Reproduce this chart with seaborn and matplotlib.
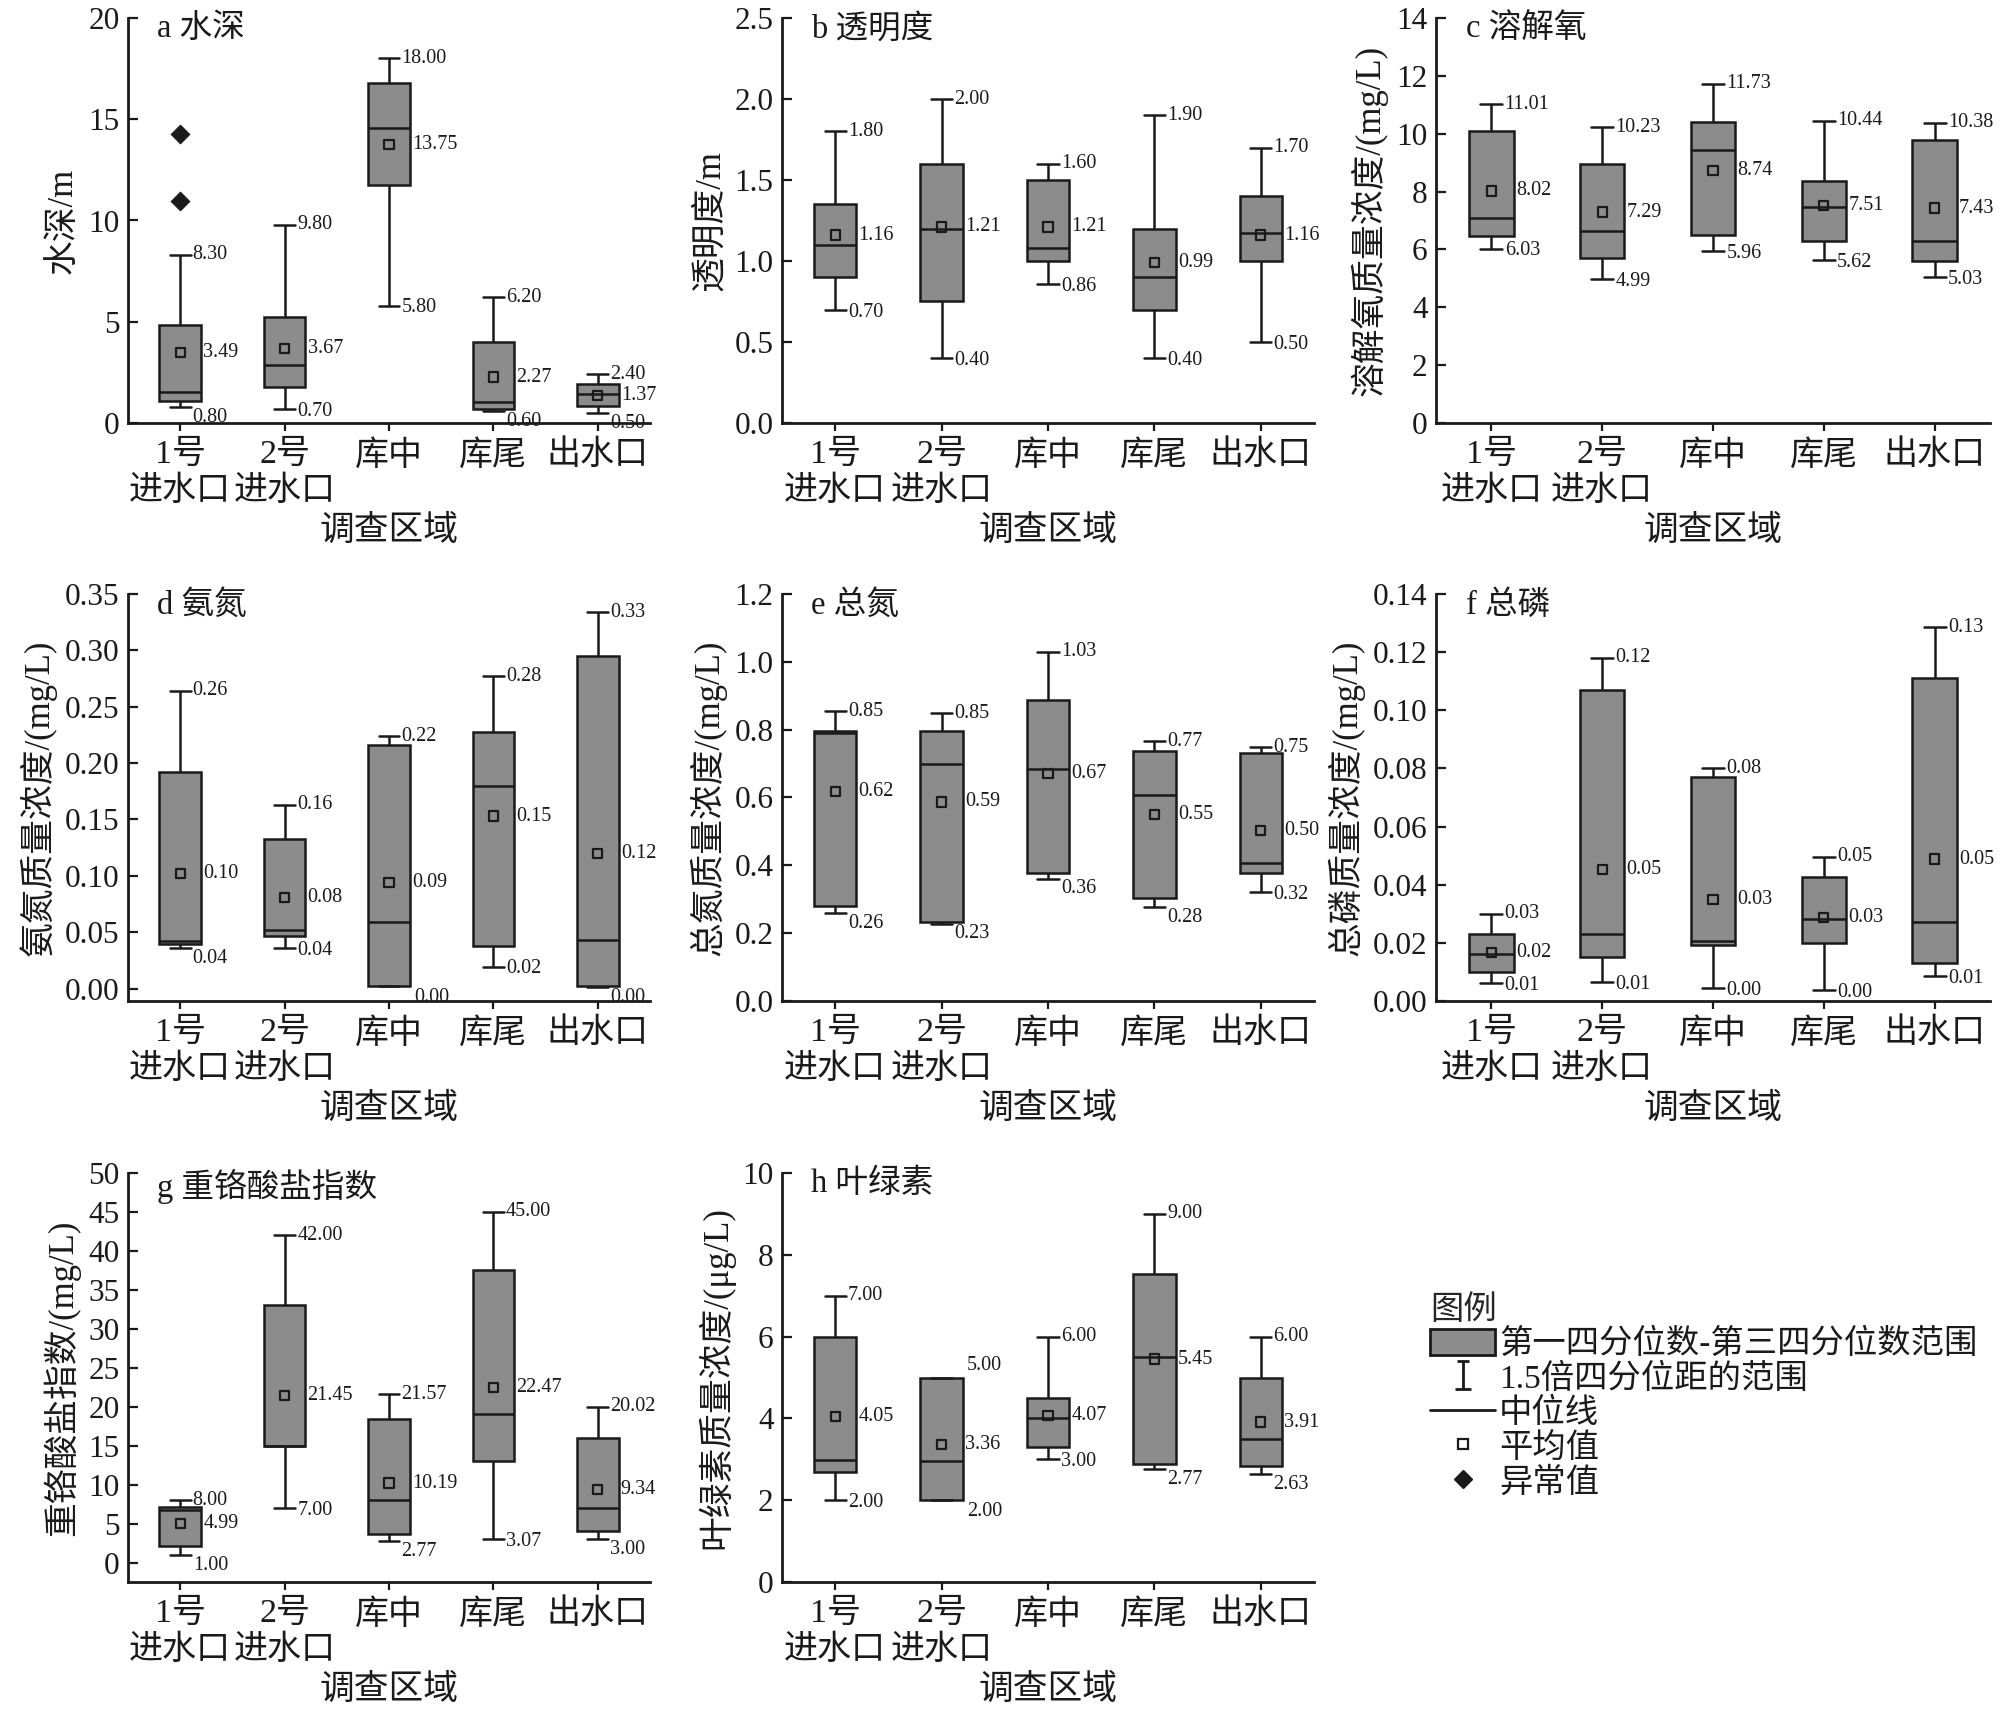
import numpy as np
import pandas as pd
import seaborn as sns
import matplotlib.pyplot as plt
from matplotlib.patches import Patch
from matplotlib.lines import Line2D
from matplotlib.path import Path

# survey regions (x axis)
regions = ['1号\n进水口', '2号\n进水口', '库中', '库尾', '出水口']

# five-number summaries per region: [lower whisker, Q1, median, Q3, upper whisker]
depth = [[0.80, 1.09, 1.52, 4.82, 8.30], [0.70, 1.80, 2.85, 5.22, 9.80],
         [5.80, 11.73, 14.55, 16.78, 18.00], [0.60, 0.67, 1.02, 3.99, 6.20],
         [0.50, 0.82, 1.44, 1.91, 2.40]]
depth_mean = [3.49, 3.67, 13.75, 2.27, 1.37]
depth_outliers = [14.28, 10.98]  # both at 1号进水口

clarity = [[0.70, 0.90, 1.10, 1.35, 1.80], [0.40, 0.75, 1.20, 1.60, 2.00],
           [0.86, 1.00, 1.08, 1.50, 1.60], [0.40, 0.70, 0.90, 1.20, 1.90],
           [0.50, 1.00, 1.17, 1.40, 1.70]]
clarity_mean = [1.16, 1.21, 1.21, 0.99, 1.16]

oxygen = [[6.03, 6.46, 7.10, 10.09, 11.01], [4.99, 5.70, 6.62, 8.95, 10.23],
          [5.96, 6.49, 9.44, 10.41, 11.73], [5.62, 6.28, 7.45, 8.37, 10.44],
          [5.03, 5.60, 6.29, 9.77, 10.38]]
oxygen_mean = [8.02, 7.29, 8.74, 7.51, 7.43]

ammonia = [[0.036, 0.040, 0.042, 0.192, 0.264], [0.036, 0.047, 0.052, 0.133, 0.163],
           [0.002, 0.002, 0.059, 0.216, 0.224], [0.0196, 0.038, 0.180, 0.228, 0.277],
           [0.0016, 0.002, 0.043, 0.295, 0.334]]
ammonia_mean = [0.102, 0.081, 0.094, 0.153, 0.120]

tn = [[0.259, 0.280, 0.790, 0.797, 0.854], [0.228, 0.234, 0.699, 0.797, 0.848],
      [0.361, 0.377, 0.685, 0.888, 1.030], [0.277, 0.303, 0.607, 0.738, 0.766],
      [0.322, 0.378, 0.408, 0.730, 0.748]]
tn_mean = [0.617, 0.587, 0.670, 0.549, 0.502]

tp = [[0.0063, 0.0100, 0.0160, 0.0231, 0.0300], [0.0065, 0.0151, 0.0231, 0.1069, 0.1180],
      [0.0044, 0.0194, 0.0207, 0.0770, 0.0800], [0.0038, 0.0199, 0.0283, 0.0428, 0.0497],
      [0.0085, 0.0129, 0.0272, 0.1110, 0.1285]]
tp_mean = [0.0166, 0.0452, 0.0348, 0.0287, 0.0488]

cod = [[1.00, 2.17, 6.80, 7.10, 8.00], [7.00, 15.0, 15.0, 33.1, 42.00],
       [2.77, 3.70, 8.06, 18.4, 21.57], [3.07, 13.0, 19.1, 37.5, 45.00],
       [3.00, 4.05, 7.05, 16.0, 20.02]]
cod_mean = [4.99, 21.45, 10.19, 22.47, 9.34]

chla = [[2.00, 2.68, 2.99, 6.00, 7.00], [2.00, 2.00, 2.95, 5.00, 5.00],
        [3.00, 3.29, 4.00, 4.50, 6.00], [2.77, 2.89, 5.50, 7.52, 9.00],
        [2.63, 2.83, 3.49, 5.00, 6.00]]
chla_mean = [4.05, 3.36, 4.07, 5.45, 3.91]

sns.set_theme(style='ticks')
plt.rcParams['font.family'] = ['Liberation Serif', 'Noto Sans CJK SC', 'DejaVu Sans']
plt.rcParams['axes.unicode_minus'] = False

INK = '#1a1a1a'
BOX = '#8c8c8c'
W, H = 2000, 1710
fig = plt.figure(figsize=(W / 100, H / 100), dpi=100)


def px_axes(left, top, right, bottom):
    return fig.add_axes([left / W, 1 - bottom / H, (right - left) / W, (bottom - top) / H])


cols = [(128, 650), (782, 1314), (1436, 1990)]
rows = [(18, 423), (594, 1001), (1173, 1582)]

panels = [
    (depth, depth_mean, 'a 水深', '水深/m', (0, 20), np.arange(0, 21, 5), '{:.0f}'),
    (clarity, clarity_mean, 'b 透明度', '透明度/m', (0, 2.5), np.arange(0, 2.51, 0.5), '{:.1f}'),
    (oxygen, oxygen_mean, 'c 溶解氧', '溶解氧质量浓度/(mg/L)', (0, 14), np.arange(0, 15, 2), '{:.0f}'),
    (ammonia, ammonia_mean, 'd 氨氮', '氨氮质量浓度/(mg/L)', (-0.011, 0.35), np.arange(0, 0.351, 0.05), '{:.2f}'),
    (tn, tn_mean, 'e 总氮', '总氮质量浓度/(mg/L)', (0, 1.2), np.arange(0, 1.21, 0.2), '{:.1f}'),
    (tp, tp_mean, 'f 总磷', '总磷质量浓度/(mg/L)', (0, 0.14), np.arange(0, 0.141, 0.02), '{:.2f}'),
    (cod, cod_mean, 'g 重铬酸盐指数', '重铬酸盐指数/(mg/L)', (-2.5, 50), np.arange(0, 51, 5), '{:.0f}'),
    (chla, chla_mean, 'h 叶绿素', '叶绿素质量浓度/(μg/L)', (0, 10), np.arange(0, 11, 2), '{:.0f}'),
]

box_w = 0.4
cap_half = box_w * 0.25

for k, (stats, means, title, ylabel, ylim, yticks, fmt) in enumerate(panels):
    r, c = divmod(k, 3)
    ax = px_axes(cols[c][0], rows[r][0], cols[c][1], rows[r][1])

    df = pd.DataFrame([(reg, v) for reg, s in zip(regions, stats) for v in s],
                      columns=['region', 'value'])
    sns.boxplot(data=df, x='region', y='value', order=regions, whis=(0, 100),
                width=box_w, color=BOX, linecolor=INK, linewidth=1.8,
                saturation=1, showfliers=False, ax=ax)
    sns.scatterplot(x=np.arange(len(regions)), y=means, marker='s', s=45,
                    facecolor='none', edgecolor=INK, linewidth=1.6, zorder=5, ax=ax)
    if k == 0:
        sns.scatterplot(x=[0] * len(depth_outliers), y=depth_outliers, marker='D',
                        s=90, color=INK, edgecolor=INK, zorder=5, ax=ax)

    span = ylim[1] - ylim[0]
    for i, (s, m) in enumerate(zip(stats, means)):
        lo, q1, med, q3, hi = s
        # upper whisker label
        if hi > q3:
            ax.text(i + cap_half + 0.02, hi, '{:.2f}'.format(hi), fontsize=14.5,
                    va='center', ha='left', color=INK)
        else:
            ax.text(i + box_w / 2 + 0.04, hi + span * 0.005, '{:.2f}'.format(hi),
                    fontsize=14.5, va='bottom', ha='left', color=INK)
        # lower whisker label
        if q1 > lo:
            va = 'top' if (q1 - lo) / span < 0.025 else 'center'
            dy = span * 0.006 if va == 'center' else span * 0.002
            ax.text(i + cap_half + 0.02, lo - dy, '{:.2f}'.format(lo), fontsize=14.5,
                    va=va, ha='left', color=INK)
        else:
            ax.text(i + box_w / 2 + 0.04, lo - span * 0.005, '{:.2f}'.format(lo),
                    fontsize=14.5, va='top', ha='left', color=INK)
        # mean label
        ax.text(i + box_w / 2 + 0.02, m, '{:.2f}'.format(m), fontsize=14.5,
                va='center', ha='left', color=INK)

    ax.set_xlim(-0.5, 4.5)
    ax.set_ylim(*ylim)
    ax.set_yticks(yticks)
    ax.set_yticklabels([fmt.format(t) for t in yticks])
    ax.set_xticks(range(len(regions)))
    ax.set_xticklabels(regions, fontsize=24.5, linespacing=1.22, color=INK)
    ax.tick_params(axis='y', direction='in', length=7, width=1.6, labelsize=22.5,
                   colors=INK, pad=6)
    ax.tick_params(axis='x', direction='out', length=6, width=1.6, colors=INK, pad=6)
    ax.set_xlabel('调查区域', fontsize=25, color=INK, labelpad=6)
    ax.set_ylabel(ylabel, fontsize=25, color=INK, labelpad=6)
    for side in ['top', 'right']:
        ax.spines[side].set_visible(False)
    for side in ['left', 'bottom']:
        ax.spines[side].set_linewidth(2)
        ax.spines[side].set_color(INK)
    ax.text(0.055, 1.01, title, transform=ax.transAxes, fontsize=23.5, va='top',
            ha='left', color=INK)

# legend panel
lax = px_axes(1430, 1295, 2000, 1530)
lax.axis('off')
ipath = Path([(-0.45, 1), (0.45, 1), (0, 1), (0, -1), (-0.6, -1), (0.6, -1)],
             [Path.MOVETO, Path.LINETO, Path.MOVETO, Path.LINETO, Path.MOVETO, Path.LINETO])
handles = [
    Patch(facecolor=BOX, edgecolor=INK, linewidth=2),
    Line2D([], [], marker=ipath, markersize=20, markerfacecolor='none',
           markeredgecolor=INK, markeredgewidth=2, linestyle='none'),
    Line2D([], [], color=INK, linewidth=2),
    Line2D([], [], marker='s', markersize=7, markerfacecolor='none',
           markeredgecolor=INK, markeredgewidth=1.6, linestyle='none'),
    Line2D([], [], marker='D', markersize=9, color=INK, linestyle='none'),
]
labels = ['第一四分位数-第三四分位数范围', '1.5倍四分位距的范围', '中位线', '平均值', '异常值']
leg = lax.legend(handles, labels, loc='upper left', bbox_to_anchor=(0, 1),
                 frameon=False, fontsize=24, title='图例', title_fontsize=24,
                 alignment='left', handlelength=1.95, handleheight=0.85,
                 handletextpad=0.12, labelspacing=0.08, borderaxespad=0,
                 borderpad=0)
for t in leg.get_texts():
    t.set_color(INK)

fig.savefig('out.png', dpi=100)
